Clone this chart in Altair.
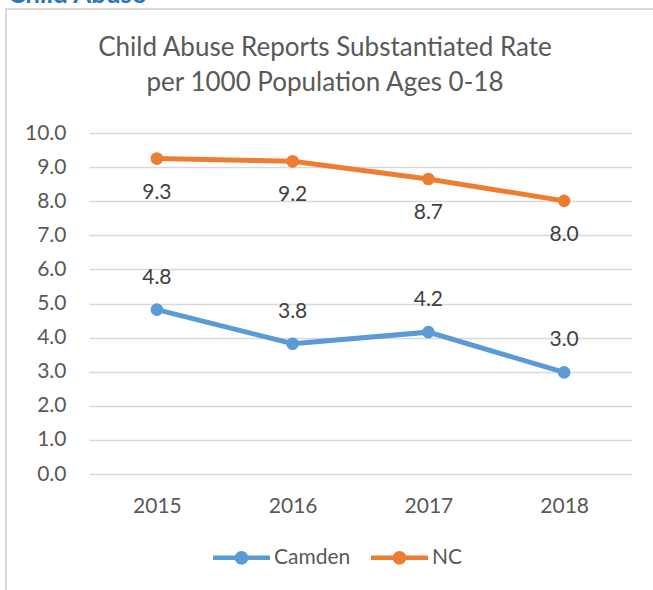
import altair as alt
import pandas as pd

years = ["2015", "2016", "2017", "2018"]
camden = [4.82, 3.82, 4.16, 2.98]
nc = [9.25, 9.17, 8.65, 8.01]
series_names = ["Camden", "NC"]
colors = ["#5b9bd5", "#ed7d31"]
title_lines = ["Child Abuse Reports Substantiated Rate", "per 1000 Population Ages 0-18"]
header = "Child Abuse"

rows = []
for name, vals in zip(series_names, [camden, nc]):
    for y, v in zip(years, vals):
        rows.append({"year": y, "value": v, "series": name})
df = pd.DataFrame(rows)

FONT = "Lato"
TXT = "#595959"
FS = 21

x = alt.X("year:N", title=None, sort=years,
          scale=alt.Scale(paddingOuter=0.5, paddingInner=0),
          axis=alt.Axis(labelAngle=0, labelFontSize=FS, labelColor=TXT, labelFont=FONT,
                        domain=False, ticks=False, labelPadding=21, grid=False))
y = alt.Y("value:Q", title=None, scale=alt.Scale(domain=[0, 10], nice=False),
          axis=alt.Axis(values=list(range(11)), format=".1f", labelFontSize=FS,
                        labelColor=TXT, labelFont=FONT, domain=False, ticks=False,
                        labelPadding=23, gridColor="#d9d9d9", gridWidth=1.5))
legend = alt.Legend(title=None, orient="none", direction="horizontal",
                    legendX=124, legendY=396,
                    symbolType="M-1,-0.08L1,-0.08L1,0.08L-1,0.08Z M-0.24,0 A0.24,0.24 0 1,1 0.24,0 A0.24,0.24 0 1,1 -0.24,0 Z",
                    symbolSize=3249, symbolStrokeWidth=0, symbolOpacity=1,
                    labelFontSize=FS, labelColor=TXT, labelFont=FONT,
                    columnPadding=20, labelOffset=4)
color = alt.Color("series:N", sort=series_names,
                  scale=alt.Scale(domain=series_names, range=colors), legend=legend)

base = alt.Chart(df)
lines = base.mark_line(strokeWidth=5).encode(x=x, y=y, color=color)
points = base.mark_circle(size=160, opacity=1).encode(x=x, y=y, color=color)

lab_nc = base.transform_filter(alt.datum.series == "NC").mark_text(
    dy=34, fontSize=FS, font=FONT, color="#404040").encode(
    x=x, y=y, text=alt.Text("value:Q", format=".1f"))
lab_cam = base.transform_filter(alt.datum.series == "Camden").mark_text(
    dy=-32, fontSize=FS, font=FONT, color="#404040").encode(
    x=x, y=y, text=alt.Text("value:Q", format=".1f"))

one = pd.DataFrame({"t": [title_lines[0]], "t2": [title_lines[1]], "h": [header]})
border = alt.Chart(one).mark_rect(fill=None, stroke="#d9d9d9", strokeWidth=2).encode(
    x=alt.value(-83), y=alt.value(-124), x2=alt.value(700), y2=alt.value(700))
t1 = alt.Chart(one).mark_text(fontSize=26, font=FONT, color=TXT).encode(
    x=alt.value(236), y=alt.value(-85), text="t:N")
t2 = alt.Chart(one).mark_text(fontSize=26, font=FONT, color=TXT).encode(
    x=alt.value(236), y=alt.value(-50), text="t2:N")
hd = alt.Chart(one).mark_text(fontSize=26, font=FONT, color="#2e75b6", align="left",
                              baseline="bottom", fontWeight="bold").encode(
    x=alt.value(-81), y=alt.value(-125), text="h:N")

chart = alt.layer(border, hd, t1, t2, lines, points, lab_nc, lab_cam).properties(
    width=543, height=341,
    autosize=alt.AutoSizeParams(type="none"),
    padding={"left": 89, "top": 133, "right": 21, "bottom": 116},
).configure(background="white").configure_view(stroke=None)

chart.save("out.html", embed_options={"renderer": "svg", "actions": False})
